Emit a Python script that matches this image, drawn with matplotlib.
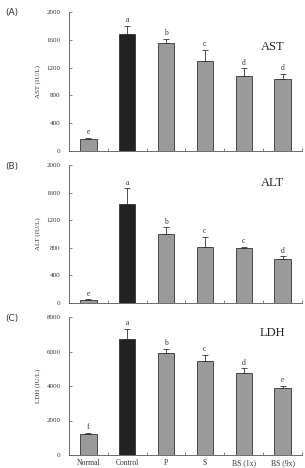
import matplotlib
matplotlib.use("Agg")
import matplotlib.pyplot as plt
import numpy as np

categories = ["Normal", "Control", "P", "S", "BS (1x)", "BS (9x)"]
ast = [170, 1690, 1550, 1290, 1080, 1040]
ast_err = [15, 110, 60, 170, 110, 70]
ast_letters = ["e", "a", "b", "c", "d", "d"]
alt = [45, 1440, 1000, 805, 795, 635]
alt_err = [10, 220, 95, 150, 15, 40]
alt_letters = ["e", "a", "b", "c", "c", "d"]
ldh = [1200, 6750, 5900, 5450, 4780, 3870]
ldh_err = [100, 550, 250, 350, 250, 150]
ldh_letters = ["f", "a", "b", "c", "d", "e"]

panels = [
    ("(A)", "AST", "AST (IU/L)", ast, ast_err, ast_letters, 2000, [0, 400, 800, 1200, 1600, 2000], 0.75),
    ("(B)", "ALT", "ALT (IU/L)", alt, alt_err, alt_letters, 2000, [0, 400, 800, 1200, 1600, 2000], 0.87),
    ("(C)", "LDH", "LDH (IU/L)", ldh, ldh_err, ldh_letters, 8000, [0, 2000, 4000, 6000, 8000], 0.885),
]

W, H = 305, 468
fig = plt.figure(figsize=(W / 100, H / 100), dpi=100)
serif = "Liberation Serif"

tops = [12, 165, 317]
bottoms = [151, 303, 455]
x0, x1 = 69, 302

colors = ["#9a9a9a", "#222222", "#9a9a9a", "#9a9a9a", "#9a9a9a", "#9a9a9a"]
x = np.arange(len(categories))

for i, (plab, title, ylab, vals, errs, letters, ymax, yt, ty) in enumerate(panels):
    ax = fig.add_axes([x0 / W, 1 - bottoms[i] / H, (x1 - x0) / W, (bottoms[i] - tops[i]) / H])
    ax.bar(x, vals, width=0.42, color=colors, edgecolor="#333333", linewidth=0.6, zorder=2)
    ax.errorbar(x, vals, yerr=[np.zeros(len(vals)), errs], fmt="none", ecolor="#333333",
                elinewidth=0.6, capsize=2, capthick=0.6, zorder=3)
    for xi, v, e, l in zip(x, vals, errs, letters):
        ax.text(xi, v + e + ymax * 0.012, l, ha="center", va="bottom", fontsize=5.5, family=serif, color="#333333")
    ax.set_xlim(-0.5, 5.5)
    ax.set_ylim(0, ymax)
    ax.set_yticks(yt)
    ax.set_yticklabels([str(t) for t in yt], fontsize=5, family=serif, color="#333333")
    ax.set_xticks(np.arange(0.5, 5.6, 1.0))
    ax.set_xticklabels([])
    ax.tick_params(axis="x", direction="in", length=2, width=0.5, colors="#555555")
    ax.tick_params(axis="y", direction="in", length=2, width=0.5, colors="#555555", labelcolor="#333333", pad=6)
    ax.spines["top"].set_visible(False)
    ax.spines["right"].set_visible(False)
    for s in ["left", "bottom"]:
        ax.spines[s].set_linewidth(0.6)
        ax.spines[s].set_color("#555555")
    ax.set_ylabel(ylab, fontsize=5, family=serif, color="#333333", labelpad=4)
    ax.text(0.875, ty, title, transform=ax.transAxes, ha="center", va="center", fontsize=9, family=serif, color="#222222")
    fig.text(5 / W, 1 - (tops[i] + 1) / H, plab, ha="left", va="center", fontsize=6.5, family="DejaVu Sans", color="#333333")
    if i == 2:
        for xi, c in zip(x, categories):
            ax.text(xi, -ymax * 0.03, c, ha="center", va="top", fontsize=5.5, family=serif, color="#333333")

fig.savefig("out.png", dpi=100)
